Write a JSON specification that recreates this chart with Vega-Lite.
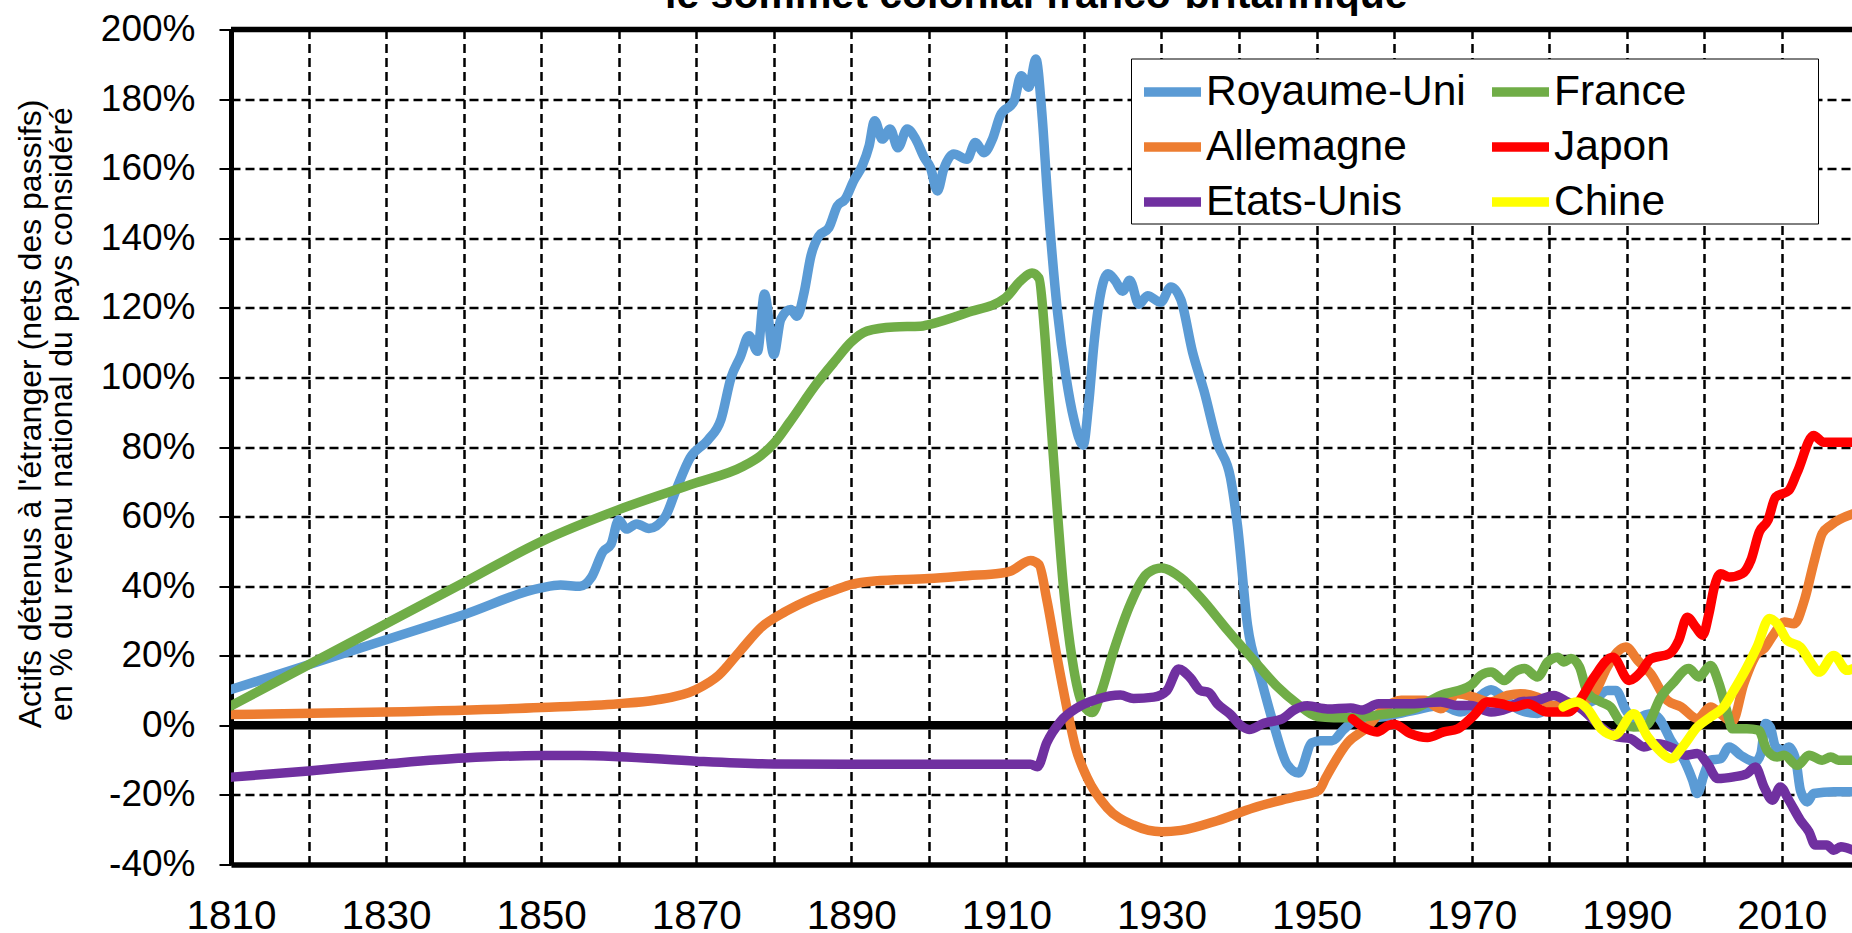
{
"$schema": "https://vega.github.io/schema/vega-lite/v6.json",
"width": 1621, "height": 835,
"autosize": {"type": "none"},
"padding": {"left": 231, "top": 29.5, "right": 0, "bottom": 68.5},
"background": "white",
"config": {"font": "Liberation Sans", "view": {"stroke": null}},
"title": {"text": "le sommet colonial franco-britannique", "fontSize": 41, "font": "Liberation Sans", "fontWeight": "bold", "color": "black", "anchor": "start", "frame": "group", "dx": 434, "offset": -38.5, "baseline": "alphabetic"},
"encoding": {
"y": {"field": "v", "type": "quantitative", "scale": {"domain": [-40, 200], "nice": false, "zero": false},
 "axis": {"values": [-40,-20,0,20,40,60,80,100,120,140,160,180,200], "labelExpr": "datum.value + '%'", "grid": true, "gridColor": "black", "gridDash": [9, 5], "gridWidth": 2.5, "gridOpacity": 1, "ticks": true, "tickSize": 12, "tickWidth": 2, "tickColor": "black", "labelFontSize": 37, "labelFont": "Liberation Sans", "labelColor": "black", "labelPadding": 24, "labelFlush": false, "labelOverlap": false, "domainColor": "black", "domainWidth": 5,
  "title": ["Actifs détenus à l'étranger (nets des passifs)", "en % du revenu national du pays considéré"], "titleFont": "Liberation Sans", "titleFontSize": 32, "titleFontWeight": "normal", "titleColor": "black", "titleLineHeight": 31, "titleAngle": -90, "titleAlign": "center", "titleBaseline": "middle", "titleX": -200.5, "titleY": 384}}
},
"layer": [
{"data": {"values": [{"v": 0}]}, "mark": {"type": "rule", "color": "black", "strokeWidth": 8.5}},
{"data": {"values": [{"v": 200}]}, "mark": {"type": "rule", "color": "black", "strokeWidth": 5.5}},
{"data": {"values": [
{"c":"Royaume-Uni","x":1810,"v":10.3},{"c":"Royaume-Uni","x":1820,"v":17.4},{"c":"Royaume-Uni","x":1830,"v":24.6},{"c":"Royaume-Uni","x":1840,"v":31.8},{"c":"Royaume-Uni","x":1850,"v":39.5},{"c":"Royaume-Uni","x":1852.5,"v":40.3},{"c":"Royaume-Uni","x":1855,"v":40},{"c":"Royaume-Uni","x":1856.5,"v":42.6},{"c":"Royaume-Uni","x":1858,"v":50},{"c":"Royaume-Uni","x":1859,"v":52},{"c":"Royaume-Uni","x":1860,"v":59},{"c":"Royaume-Uni","x":1861,"v":56.4},{"c":"Royaume-Uni","x":1862.3,"v":57.9},{"c":"Royaume-Uni","x":1863.9,"v":56.6},{"c":"Royaume-Uni","x":1866,"v":60},{"c":"Royaume-Uni","x":1867.4,"v":67.7},{"c":"Royaume-Uni","x":1869.2,"v":76.9},{"c":"Royaume-Uni","x":1871.5,"v":82},{"c":"Royaume-Uni","x":1873.2,"v":88},{"c":"Royaume-Uni","x":1874.5,"v":100},{"c":"Royaume-Uni","x":1875.7,"v":106},{"c":"Royaume-Uni","x":1876.8,"v":112},{"c":"Royaume-Uni","x":1877.9,"v":107.5},{"c":"Royaume-Uni","x":1878.8,"v":124},{"c":"Royaume-Uni","x":1880,"v":106.6},{"c":"Royaume-Uni","x":1880.9,"v":116.7},{"c":"Royaume-Uni","x":1882.2,"v":119.5},{"c":"Royaume-Uni","x":1883,"v":117.6},{"c":"Royaume-Uni","x":1883.9,"v":124.3},{"c":"Royaume-Uni","x":1884.8,"v":135},{"c":"Royaume-Uni","x":1885.8,"v":140.6},{"c":"Royaume-Uni","x":1887.1,"v":143},{"c":"Royaume-Uni","x":1888.2,"v":149.3},{"c":"Royaume-Uni","x":1889.2,"v":151.2},{"c":"Royaume-Uni","x":1890.3,"v":156.5},{"c":"Royaume-Uni","x":1891.4,"v":160.8},{"c":"Royaume-Uni","x":1892.3,"v":166.6},{"c":"Royaume-Uni","x":1893,"v":173.8},{"c":"Royaume-Uni","x":1894,"v":168.5},{"c":"Royaume-Uni","x":1895,"v":171.4},{"c":"Royaume-Uni","x":1896,"v":166},{"c":"Royaume-Uni","x":1897.2,"v":171.4},{"c":"Royaume-Uni","x":1898.3,"v":168.5},{"c":"Royaume-Uni","x":1899.4,"v":163.2},{"c":"Royaume-Uni","x":1900.2,"v":160.3},{"c":"Royaume-Uni","x":1901.1,"v":153.6},{"c":"Royaume-Uni","x":1901.9,"v":159.8},{"c":"Royaume-Uni","x":1903.2,"v":164.2},{"c":"Royaume-Uni","x":1904.9,"v":162.7},{"c":"Royaume-Uni","x":1906,"v":167.5},{"c":"Royaume-Uni","x":1907.1,"v":164.6},{"c":"Royaume-Uni","x":1908.2,"v":168.5},{"c":"Royaume-Uni","x":1909.2,"v":175.2},{"c":"Royaume-Uni","x":1911,"v":179.5},{"c":"Royaume-Uni","x":1911.9,"v":186.7},{"c":"Royaume-Uni","x":1912.9,"v":183.4},{"c":"Royaume-Uni","x":1913.8,"v":191.5},{"c":"Royaume-Uni","x":1914.6,"v":175.2},{"c":"Royaume-Uni","x":1915.3,"v":152.2},{"c":"Royaume-Uni","x":1916.6,"v":118.6},{"c":"Royaume-Uni","x":1917.7,"v":100},{"c":"Royaume-Uni","x":1918.7,"v":88},{"c":"Royaume-Uni","x":1919.9,"v":80.5},{"c":"Royaume-Uni","x":1920.6,"v":92.3},{"c":"Royaume-Uni","x":1921.3,"v":109.8},{"c":"Royaume-Uni","x":1922.1,"v":123.5},{"c":"Royaume-Uni","x":1923.1,"v":129.8},{"c":"Royaume-Uni","x":1924,"v":127.9},{"c":"Royaume-Uni","x":1925,"v":124.8},{"c":"Royaume-Uni","x":1925.9,"v":127.9},{"c":"Royaume-Uni","x":1927.1,"v":121},{"c":"Royaume-Uni","x":1928.2,"v":123.5},{"c":"Royaume-Uni","x":1929.9,"v":121.6},{"c":"Royaume-Uni","x":1931.2,"v":126},{"c":"Royaume-Uni","x":1932.5,"v":122.3},{"c":"Royaume-Uni","x":1934,"v":107.3},{"c":"Royaume-Uni","x":1935.5,"v":96},{"c":"Royaume-Uni","x":1937.2,"v":81.1},{"c":"Royaume-Uni","x":1938.9,"v":71.1},{"c":"Royaume-Uni","x":1939.8,"v":57.4},{"c":"Royaume-Uni","x":1941.1,"v":28.7},{"c":"Royaume-Uni","x":1942.8,"v":13.7},{"c":"Royaume-Uni","x":1944.5,"v":0},{"c":"Royaume-Uni","x":1946.2,"v":-11.2},{"c":"Royaume-Uni","x":1947.7,"v":-13.7},{"c":"Royaume-Uni","x":1949.4,"v":-5},{"c":"Royaume-Uni","x":1950.5,"v":-4.4},{"c":"Royaume-Uni","x":1952,"v":-4.4},{"c":"Royaume-Uni","x":1953.5,"v":-1.2},{"c":"Royaume-Uni","x":1955,"v":1.5},{"c":"Royaume-Uni","x":1958.3,"v":2.4},{"c":"Royaume-Uni","x":1962.6,"v":4.3},{"c":"Royaume-Uni","x":1966,"v":5.7},{"c":"Royaume-Uni","x":1968.6,"v":3.8},{"c":"Royaume-Uni","x":1970.7,"v":7.7},{"c":"Royaume-Uni","x":1972.5,"v":10.2},{"c":"Royaume-Uni","x":1974.2,"v":7.7},{"c":"Royaume-Uni","x":1976.3,"v":4.3},{"c":"Royaume-Uni","x":1978.5,"v":3.4},{"c":"Royaume-Uni","x":1980.6,"v":5.7},{"c":"Royaume-Uni","x":1983.2,"v":5.7},{"c":"Royaume-Uni","x":1985.8,"v":7.2},{"c":"Royaume-Uni","x":1987.5,"v":10},{"c":"Royaume-Uni","x":1988.6,"v":10},{"c":"Royaume-Uni","x":1989.9,"v":4.3},{"c":"Royaume-Uni","x":1990.9,"v":1.9},{"c":"Royaume-Uni","x":1993.1,"v":3.3},{"c":"Royaume-Uni","x":1994.2,"v":1.9},{"c":"Royaume-Uni","x":1995.7,"v":-4.3},{"c":"Royaume-Uni","x":1997.4,"v":-10},{"c":"Royaume-Uni","x":1998.5,"v":-15.8},{"c":"Royaume-Uni","x":1999.1,"v":-19.6},{"c":"Royaume-Uni","x":2000,"v":-13.9},{"c":"Royaume-Uni","x":2000.8,"v":-10},{"c":"Royaume-Uni","x":2002.1,"v":-9.6},{"c":"Royaume-Uni","x":2003.2,"v":-6.2},{"c":"Royaume-Uni","x":2004.7,"v":-8.6},{"c":"Royaume-Uni","x":2006.6,"v":-10.5},{"c":"Royaume-Uni","x":2007.3,"v":-8.1},{"c":"Royaume-Uni","x":2007.9,"v":0.5},{"c":"Royaume-Uni","x":2008.5,"v":-0.5},{"c":"Royaume-Uni","x":2009.2,"v":-6.2},{"c":"Royaume-Uni","x":2010.3,"v":-7.2},{"c":"Royaume-Uni","x":2010.9,"v":-6.2},{"c":"Royaume-Uni","x":2011.8,"v":-10},{"c":"Royaume-Uni","x":2012.4,"v":-18.7},{"c":"Royaume-Uni","x":2013.3,"v":-22},{"c":"Royaume-Uni","x":2014.1,"v":-19.6},{"c":"Royaume-Uni","x":2016.7,"v":-19.1},{"c":"Royaume-Uni","x":2019.2,"v":-19.1},
{"c":"Allemagne","x":1810,"v":3.1},{"c":"Allemagne","x":1830,"v":3.8},{"c":"Allemagne","x":1850,"v":5.1},{"c":"Allemagne","x":1860,"v":6.2},{"c":"Allemagne","x":1864.6,"v":7.2},{"c":"Allemagne","x":1870,"v":10.3},{"c":"Allemagne","x":1872.9,"v":14.4},{"c":"Allemagne","x":1875.7,"v":21.5},{"c":"Allemagne","x":1878.4,"v":28.2},{"c":"Allemagne","x":1881.6,"v":32.8},{"c":"Allemagne","x":1885,"v":36.5},{"c":"Allemagne","x":1888,"v":39},{"c":"Allemagne","x":1890,"v":40.5},{"c":"Allemagne","x":1893,"v":41.5},{"c":"Allemagne","x":1900,"v":42.2},{"c":"Allemagne","x":1905,"v":43},{"c":"Allemagne","x":1909.2,"v":43.7},{"c":"Allemagne","x":1910.5,"v":44.3},{"c":"Allemagne","x":1913.1,"v":47.4},{"c":"Allemagne","x":1914.2,"v":46.2},{"c":"Allemagne","x":1915.2,"v":36.2},{"c":"Allemagne","x":1916.5,"v":20},{"c":"Allemagne","x":1917.8,"v":5},{"c":"Allemagne","x":1918.9,"v":-6.2},{"c":"Allemagne","x":1920.4,"v":-15},{"c":"Allemagne","x":1923,"v":-23.7},{"c":"Allemagne","x":1926.4,"v":-28.7},{"c":"Allemagne","x":1930,"v":-30.6},{"c":"Allemagne","x":1932.5,"v":-30.2},{"c":"Allemagne","x":1937.2,"v":-27.4},{"c":"Allemagne","x":1941.9,"v":-23.7},{"c":"Allemagne","x":1947.1,"v":-20.6},{"c":"Allemagne","x":1950.3,"v":-18.7},{"c":"Allemagne","x":1951.2,"v":-15},{"c":"Allemagne","x":1954,"v":-5},{"c":"Allemagne","x":1956.5,"v":-0.6},{"c":"Allemagne","x":1958.3,"v":4},{"c":"Allemagne","x":1960.9,"v":7.2},{"c":"Allemagne","x":1963.9,"v":7.2},{"c":"Allemagne","x":1966,"v":4.8},{"c":"Allemagne","x":1968.2,"v":9.1},{"c":"Allemagne","x":1970.3,"v":8.1},{"c":"Allemagne","x":1972.4,"v":6.7},{"c":"Allemagne","x":1974.6,"v":8.6},{"c":"Allemagne","x":1976.3,"v":9.1},{"c":"Allemagne","x":1978.5,"v":8.1},{"c":"Allemagne","x":1980.6,"v":5.7},{"c":"Allemagne","x":1982.4,"v":5.7},{"c":"Allemagne","x":1984.1,"v":6.7},{"c":"Allemagne","x":1985.8,"v":9.1},{"c":"Allemagne","x":1987.5,"v":16.8},{"c":"Allemagne","x":1988.8,"v":21.1},{"c":"Allemagne","x":1989.9,"v":22.5},{"c":"Allemagne","x":1991.4,"v":18.7},{"c":"Allemagne","x":1993.1,"v":14.8},{"c":"Allemagne","x":1995.2,"v":7.2},{"c":"Allemagne","x":1997,"v":5.3},{"c":"Allemagne","x":1999.1,"v":1.9},{"c":"Allemagne","x":2000.8,"v":5.3},{"c":"Allemagne","x":2002.1,"v":3.3},{"c":"Allemagne","x":2003.6,"v":1},{"c":"Allemagne","x":2005.1,"v":12},{"c":"Allemagne","x":2006.8,"v":20.6},{"c":"Allemagne","x":2007.7,"v":22},{"c":"Allemagne","x":2009,"v":26.3},{"c":"Allemagne","x":2010.3,"v":29.7},{"c":"Allemagne","x":2011.6,"v":29.2},{"c":"Allemagne","x":2012.9,"v":35.9},{"c":"Allemagne","x":2014.2,"v":47.4},{"c":"Allemagne","x":2015.2,"v":55.1},{"c":"Allemagne","x":2016.3,"v":57.5},{"c":"Allemagne","x":2019.2,"v":60.8},
{"c":"France","x":1810,"v":5.6},{"c":"France","x":1820,"v":17.4},{"c":"France","x":1830,"v":29.2},{"c":"France","x":1840,"v":41},{"c":"France","x":1850,"v":52.8},{"c":"France","x":1860,"v":62},{"c":"France","x":1870,"v":69.7},{"c":"France","x":1876,"v":74.4},{"c":"France","x":1878.3,"v":77.5},{"c":"France","x":1880,"v":81},{"c":"France","x":1882,"v":87},{"c":"France","x":1885.6,"v":98.4},{"c":"France","x":1888,"v":105},{"c":"France","x":1889.9,"v":110},{"c":"France","x":1892,"v":113.3},{"c":"France","x":1895.5,"v":114.5},{"c":"France","x":1898.9,"v":114.7},{"c":"France","x":1900,"v":115.2},{"c":"France","x":1904.9,"v":118.6},{"c":"France","x":1909.9,"v":122.9},{"c":"France","x":1911.8,"v":127.7},{"c":"France","x":1913.3,"v":130},{"c":"France","x":1914.2,"v":128.5},{"c":"France","x":1914.9,"v":113.8},{"c":"France","x":1915.5,"v":94.6},{"c":"France","x":1916.1,"v":76},{"c":"France","x":1917.4,"v":38.7},{"c":"France","x":1918.5,"v":18.7},{"c":"France","x":1919.8,"v":6.2},{"c":"France","x":1921.1,"v":3.7},{"c":"France","x":1922.1,"v":8.7},{"c":"France","x":1923.8,"v":21.2},{"c":"France","x":1926,"v":34.9},{"c":"France","x":1928.2,"v":43.7},{"c":"France","x":1930,"v":45.2},{"c":"France","x":1932.5,"v":42.4},{"c":"France","x":1935,"v":36.8},{"c":"France","x":1938.5,"v":27.4},{"c":"France","x":1941.9,"v":18.7},{"c":"France","x":1944.9,"v":11.2},{"c":"France","x":1947.5,"v":6.2},{"c":"France","x":1950.1,"v":2.5},{"c":"France","x":1952.2,"v":2.2},{"c":"France","x":1954.4,"v":2.2},{"c":"France","x":1958,"v":3},{"c":"France","x":1962.6,"v":4.8},{"c":"France","x":1966,"v":8.6},{"c":"France","x":1969.9,"v":11.5},{"c":"France","x":1971.2,"v":14.4},{"c":"France","x":1972.5,"v":15.3},{"c":"France","x":1974.2,"v":12.9},{"c":"France","x":1975.5,"v":15.3},{"c":"France","x":1976.8,"v":16.3},{"c":"France","x":1978.5,"v":13.9},{"c":"France","x":1979.8,"v":18.2},{"c":"France","x":1981.1,"v":19.6},{"c":"France","x":1981.9,"v":18.2},{"c":"France","x":1982.8,"v":19.2},{"c":"France","x":1983.9,"v":16.8},{"c":"France","x":1985,"v":9.1},{"c":"France","x":1986.7,"v":6.7},{"c":"France","x":1987.9,"v":5.3},{"c":"France","x":1989.2,"v":1},{"c":"France","x":1990.9,"v":-0.5},{"c":"France","x":1992.5,"v":0},{"c":"France","x":1994.4,"v":8.1},{"c":"France","x":1995.9,"v":12},{"c":"France","x":1998,"v":16.3},{"c":"France","x":1999.3,"v":13.9},{"c":"France","x":2000.8,"v":17.2},{"c":"France","x":2001.9,"v":12},{"c":"France","x":2003,"v":3.3},{"c":"France","x":2003.6,"v":-1},{"c":"France","x":2005.5,"v":-1},{"c":"France","x":2007,"v":-1.4},{"c":"France","x":2008.1,"v":-7.2},{"c":"France","x":2009.4,"v":-9.1},{"c":"France","x":2010.3,"v":-8.6},{"c":"France","x":2012,"v":-11.5},{"c":"France","x":2013.5,"v":-8.6},{"c":"France","x":2015.2,"v":-10},{"c":"France","x":2016.3,"v":-9.1},{"c":"France","x":2017.3,"v":-10},{"c":"France","x":2019.2,"v":-10},
{"c":"Etats-Unis","x":1810,"v":-14.9},{"c":"Etats-Unis","x":1820,"v":-13.1},{"c":"Etats-Unis","x":1830,"v":-11.1},{"c":"Etats-Unis","x":1840,"v":-9.4},{"c":"Etats-Unis","x":1850,"v":-8.7},{"c":"Etats-Unis","x":1855,"v":-8.7},{"c":"Etats-Unis","x":1860,"v":-9},{"c":"Etats-Unis","x":1870,"v":-10.3},{"c":"Etats-Unis","x":1880,"v":-11.1},{"c":"Etats-Unis","x":1890,"v":-11.2},{"c":"Etats-Unis","x":1900,"v":-11.2},{"c":"Etats-Unis","x":1909,"v":-11.2},{"c":"Etats-Unis","x":1913.1,"v":-11.2},{"c":"Etats-Unis","x":1914,"v":-11.9},{"c":"Etats-Unis","x":1915.2,"v":-5},{"c":"Etats-Unis","x":1917,"v":1.2},{"c":"Etats-Unis","x":1919.1,"v":5},{"c":"Etats-Unis","x":1921.7,"v":7.5},{"c":"Etats-Unis","x":1924.7,"v":8.7},{"c":"Etats-Unis","x":1926.4,"v":7.7},{"c":"Etats-Unis","x":1929,"v":8.1},{"c":"Etats-Unis","x":1930.7,"v":10},{"c":"Etats-Unis","x":1932.2,"v":16.2},{"c":"Etats-Unis","x":1933.7,"v":13.7},{"c":"Etats-Unis","x":1935,"v":10},{"c":"Etats-Unis","x":1936.1,"v":9.4},{"c":"Etats-Unis","x":1937.2,"v":6.2},{"c":"Etats-Unis","x":1938.9,"v":3.1},{"c":"Etats-Unis","x":1940.2,"v":0},{"c":"Etats-Unis","x":1941.3,"v":-1.2},{"c":"Etats-Unis","x":1943.2,"v":0.6},{"c":"Etats-Unis","x":1945.6,"v":1.9},{"c":"Etats-Unis","x":1947.1,"v":4.4},{"c":"Etats-Unis","x":1948.8,"v":5.6},{"c":"Etats-Unis","x":1951.4,"v":4.7},{"c":"Etats-Unis","x":1954.4,"v":5},{"c":"Etats-Unis","x":1955.9,"v":4.4},{"c":"Etats-Unis","x":1958,"v":6.2},{"c":"Etats-Unis","x":1961.7,"v":6.2},{"c":"Etats-Unis","x":1966,"v":6.7},{"c":"Etats-Unis","x":1968.2,"v":5.7},{"c":"Etats-Unis","x":1969.9,"v":5.7},{"c":"Etats-Unis","x":1972.5,"v":3.8},{"c":"Etats-Unis","x":1974.6,"v":4.8},{"c":"Etats-Unis","x":1976.3,"v":6.7},{"c":"Etats-Unis","x":1978.5,"v":7.2},{"c":"Etats-Unis","x":1980.6,"v":8.6},{"c":"Etats-Unis","x":1982.4,"v":6.7},{"c":"Etats-Unis","x":1984.1,"v":4.8},{"c":"Etats-Unis","x":1985.8,"v":1.4},{"c":"Etats-Unis","x":1986.7,"v":-0.5},{"c":"Etats-Unis","x":1988.8,"v":-3.3},{"c":"Etats-Unis","x":1990.5,"v":-3.8},{"c":"Etats-Unis","x":1992.2,"v":-6.2},{"c":"Etats-Unis","x":1993.9,"v":-5.3},{"c":"Etats-Unis","x":1996.1,"v":-6.7},{"c":"Etats-Unis","x":1997.6,"v":-8.6},{"c":"Etats-Unis","x":1999.1,"v":-8.1},{"c":"Etats-Unis","x":2000.4,"v":-11},{"c":"Etats-Unis","x":2001.7,"v":-15.3},{"c":"Etats-Unis","x":2003.8,"v":-14.8},{"c":"Etats-Unis","x":2005.5,"v":-13.9},{"c":"Etats-Unis","x":2006.6,"v":-12},{"c":"Etats-Unis","x":2007.7,"v":-17.7},{"c":"Etats-Unis","x":2008.8,"v":-21.5},{"c":"Etats-Unis","x":2009.8,"v":-17.7},{"c":"Etats-Unis","x":2010.9,"v":-21.5},{"c":"Etats-Unis","x":2012.4,"v":-27.3},{"c":"Etats-Unis","x":2013.5,"v":-30.6},{"c":"Etats-Unis","x":2014.3,"v":-34.4},{"c":"Etats-Unis","x":2015.8,"v":-34.4},{"c":"Etats-Unis","x":2016.7,"v":-35.9},{"c":"Etats-Unis","x":2017.6,"v":-34.9},{"c":"Etats-Unis","x":2019.2,"v":-35.9},
{"c":"Japon","x":1954.6,"v":1.9},{"c":"Japon","x":1956.1,"v":-0.6},{"c":"Japon","x":1957.8,"v":-1.9},{"c":"Japon","x":1959.3,"v":0},{"c":"Japon","x":1960,"v":0.3},{"c":"Japon","x":1962.1,"v":-2.4},{"c":"Japon","x":1964.3,"v":-3.5},{"c":"Japon","x":1966.4,"v":-1.9},{"c":"Japon","x":1968.2,"v":-1},{"c":"Japon","x":1970.3,"v":2.9},{"c":"Japon","x":1972,"v":6.7},{"c":"Japon","x":1973.8,"v":6.2},{"c":"Japon","x":1975.5,"v":5.3},{"c":"Japon","x":1977.2,"v":6.2},{"c":"Japon","x":1979.8,"v":3.8},{"c":"Japon","x":1982.4,"v":3.8},{"c":"Japon","x":1984.1,"v":7.7},{"c":"Japon","x":1985.8,"v":13.9},{"c":"Japon","x":1988.2,"v":19.6},{"c":"Japon","x":1990.3,"v":12.9},{"c":"Japon","x":1991.8,"v":15.3},{"c":"Japon","x":1993.1,"v":19.1},{"c":"Japon","x":1995.5,"v":20.6},{"c":"Japon","x":1996.7,"v":24.4},{"c":"Japon","x":1997.8,"v":31.1},{"c":"Japon","x":1998.9,"v":28.2},{"c":"Japon","x":1999.8,"v":25.9},{"c":"Japon","x":2000.6,"v":32.1},{"c":"Japon","x":2001.3,"v":39.8},{"c":"Japon","x":2002.1,"v":43.6},{"c":"Japon","x":2003.2,"v":42.6},{"c":"Japon","x":2004.9,"v":43.6},{"c":"Japon","x":2006,"v":47.4},{"c":"Japon","x":2007.1,"v":55.6},{"c":"Japon","x":2008.2,"v":58.9},{"c":"Japon","x":2009.2,"v":65.6},{"c":"Japon","x":2010.9,"v":67.5},{"c":"Japon","x":2012,"v":72.8},{"c":"Japon","x":2014.1,"v":83.3},{"c":"Japon","x":2015.4,"v":81.4},{"c":"Japon","x":2019.2,"v":81.4},
{"c":"Chine","x":1981.8,"v":5.3},{"c":"Chine","x":1983.6,"v":6.7},{"c":"Chine","x":1984.9,"v":4.8},{"c":"Chine","x":1986.7,"v":-1},{"c":"Chine","x":1988.4,"v":-2.9},{"c":"Chine","x":1990.9,"v":3.3},{"c":"Chine","x":1992.7,"v":-3.3},{"c":"Chine","x":1994.2,"v":-7.2},{"c":"Chine","x":1995.7,"v":-9.6},{"c":"Chine","x":1997.2,"v":-6.2},{"c":"Chine","x":1999.1,"v":-0.5},{"c":"Chine","x":2000.8,"v":2.4},{"c":"Chine","x":2002.5,"v":5.3},{"c":"Chine","x":2003.8,"v":10},{"c":"Chine","x":2005.5,"v":16.7},{"c":"Chine","x":2006.8,"v":22.5},{"c":"Chine","x":2008.4,"v":30.7},{"c":"Chine","x":2009.4,"v":29.2},{"c":"Chine","x":2010.7,"v":24.4},{"c":"Chine","x":2012.4,"v":22.5},{"c":"Chine","x":2013.7,"v":18.2},{"c":"Chine","x":2014.8,"v":15.3},{"c":"Chine","x":2016.7,"v":20.1},{"c":"Chine","x":2018.4,"v":15.8},{"c":"Chine","x":2019.2,"v":16.3}
]},
"mark": {"type": "line", "interpolate": "monotone", "strokeWidth": 9.5, "strokeJoin": "round", "strokeCap": "round", "clip": true},
"encoding": {
"x": {"field": "x", "type": "quantitative", "scale": {"domain": [1810, 2019.05], "nice": false, "zero": false},
 "axis": {"values": [1810,1820,1830,1840,1850,1860,1870,1880,1890,1900,1910,1920,1930,1940,1950,1960,1970,1980,1990,2000,2010], "format": "d", "labelExpr": "datum.value % 20 == 10 ? datum.label : ''", "title": null, "grid": true, "gridColor": "black", "gridDash": [9, 5], "gridWidth": 2.5, "gridOpacity": 1, "ticks": false, "tickSize": 0, "labelFontSize": 40.5, "labelFont": "Liberation Sans", "labelColor": "black", "labelPadding": 32, "labelFlush": false, "labelOverlap": false, "domainColor": "black", "domainWidth": 5.5}},
"color": {"field": "c", "type": "nominal",
 "scale": {"domain": ["Royaume-Uni", "France", "Allemagne", "Japon", "Etats-Unis", "Chine"], "range": ["#5B9BD5", "#70AD47", "#ED7D31", "#FF0000", "#7030A0", "#FFFF00"]},
 "legend": {"orient": "none", "legendX": 900, "legendY": 29, "direction": "horizontal", "columns": 2, "title": " ", "titleOrient": "right", "titlePadding": 132, "titleFontSize": 20, "labelFontSize": 42.5, "labelFont": "Liberation Sans", "labelColor": "black", "labelLimit": 500, "symbolType": "stroke", "symbolSize": 3249, "symbolStrokeWidth": 9.5, "symbolOffset": 8, "labelOffset": 0, "columnPadding": 7, "rowPadding": -6, "padding": 0, "strokeColor": "black", "fillColor": "white"}}
}}
]
}
